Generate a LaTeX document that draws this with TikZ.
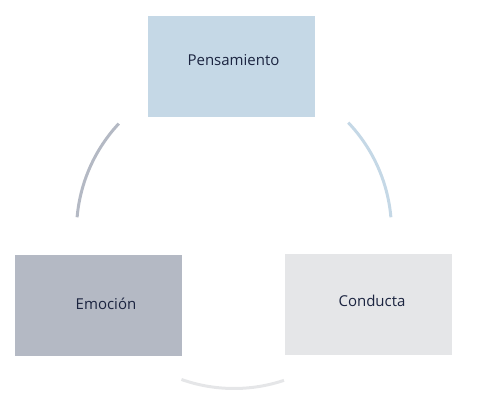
\documentclass[tikz,border=0pt]{standalone}
\usepackage{fontspec}
\setmainfont{Open Sans}
\definecolor{pensfill}{HTML}{C5D8E6}
\definecolor{emofill}{HTML}{B4B9C4}
\definecolor{condfill}{HTML}{E5E6E8}
\definecolor{txtcol}{HTML}{1B2440}
\begin{document}
\begin{tikzpicture}[x=1pt,y=-1pt,
  box/.style={draw=none,rectangle,minimum width=167pt,minimum height=101pt,inner sep=0pt},
  lbl/.style={text=txtcol,font=\fontsize{15pt}{18pt}\selectfont,inner sep=0pt},
  cyc/.style={line width=3pt}]
\useasboundingbox (0,0) rectangle (477,412);
\node[box,fill=pensfill] (pens) at (231.5,66.5) {};
\node[box,fill=emofill] (emo) at (98.5,305) {};
\node[box,fill=condfill] (cond) at (368.5,304) {};
\node[lbl] (penst) at (233.5,60) {Pensamiento};
\node[lbl] (emot) at (106,304) {Emoción};
\node[lbl] (condt) at (372,301) {Conducta};
\coordinate (c) at (234,231);
\draw[cyc,draw=emofill] ([shift={(-137:157.5)}]c) arc[start angle=-137,end angle=-175,radius=157.5];
\draw[cyc,draw=pensfill] ([shift={(-43.5:157.5)}]c) arc[start angle=-43.5,end angle=-5,radius=157.5];
\draw[cyc,draw=condfill] ([shift={(109.5:157.5)}]c) arc[start angle=109.5,end angle=71.5,radius=157.5];
\end{tikzpicture}
\end{document}
